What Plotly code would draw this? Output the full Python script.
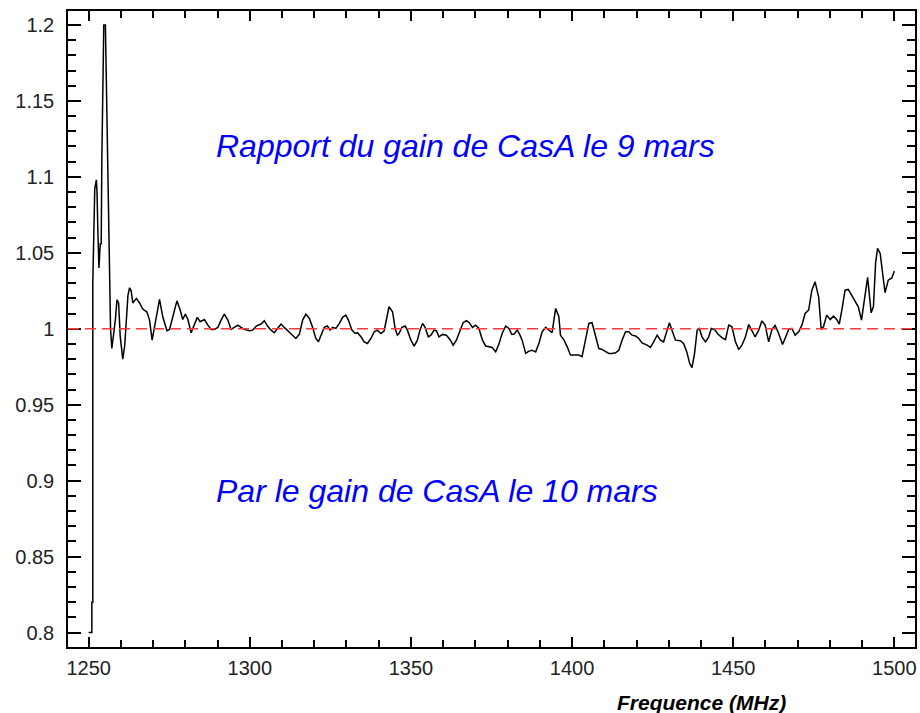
import plotly.graph_objects as go

freq_mhz = [
    1250.0, 1251.0, 1251.0, 1251.3, 1251.3, 1251.9, 1252.4, 1252.6, 1252.9, 1253.2,
    1253.6, 1253.9, 1254.1, 1254.4, 1254.7, 1255.2, 1255.5, 1256.0, 1256.5, 1256.8,
    1257.2, 1257.7, 1258.3, 1258.8, 1259.3, 1259.8, 1260.6, 1261.2, 1261.7, 1262.2,
    1262.7, 1263.2, 1263.7, 1264.8, 1265.8, 1266.8, 1268.1,
    1268.9, 1269.7, 1270.8, 1272.0, 1273.0, 1274.3, 1275.1, 1276.1, 1277.4, 1278.4,
    1279.2, 1280.0, 1280.8, 1281.8, 1282.8, 1283.7, 1284.6, 1285.9, 1287.0, 1288.0,
    1289.0, 1290.1, 1291.1, 1292.1, 1293.2, 1294.2, 1295.2, 1296.3, 1297.3, 1298.3,
    1299.9, 1300.9, 1302.0, 1303.5, 1304.5, 1305.5, 1306.6, 1307.6, 1308.6, 1309.7,
    1310.7, 1312.1, 1313.3, 1314.3, 1315.4, 1316.4, 1317.4, 1318.5, 1319.5, 1320.5,
    1321.3, 1322.4, 1323.1, 1324.1, 1324.9, 1325.7, 1326.7, 1327.8, 1328.8, 1329.8,
    1330.6, 1331.7, 1332.7, 1333.4, 1334.5, 1335.5, 1336.5, 1337.6, 1338.6, 1339.6,
    1340.7, 1341.7, 1342.4, 1343.2, 1344.3, 1345.1, 1345.8,
    1346.3, 1347.2, 1348.2, 1348.9, 1350.0, 1351.0, 1352.0, 1352.8, 1353.6, 1354.4,
    1355.4, 1356.2, 1357.2, 1357.9, 1358.7, 1359.8, 1361.0, 1362.1, 1363.1, 1364.1,
    1365.2, 1366.2, 1367.2, 1368.1, 1369.1, 1370.1, 1371.1, 1372.2, 1373.2, 1374.2,
    1375.2, 1376.3, 1377.3, 1378.3, 1379.4, 1380.4, 1381.3, 1382.0, 1383.0, 1383.7,
    1384.5, 1385.6, 1386.6, 1387.6, 1388.7, 1389.7, 1390.7, 1391.8, 1392.8, 1393.8,
    1394.9, 1395.9, 1396.4, 1397.5, 1398.5, 1399.5, 1400.6, 1402.1, 1403.1, 1404.2,
    1405.2, 1406.2, 1407.3, 1408.3, 1409.3, 1410.4, 1411.4, 1412.4, 1413.5, 1414.5,
    1415.5, 1416.6, 1417.6, 1418.6, 1419.7, 1420.7,
    1421.7, 1423.3, 1424.3, 1425.3, 1426.4, 1427.4, 1428.4, 1429.5, 1430.2, 1431.0,
    1432.1, 1433.6, 1434.6, 1435.6, 1436.5, 1437.2, 1438.0, 1438.8, 1439.5, 1440.3,
    1441.4, 1442.4, 1443.2, 1444.2, 1445.3, 1446.5, 1447.6, 1448.6, 1449.6, 1450.7,
    1451.7, 1452.7, 1453.8, 1454.8, 1455.8, 1456.8, 1457.9, 1458.9, 1459.9, 1461.0,
    1462.0, 1463.0, 1464.1, 1465.3, 1466.3, 1467.2, 1468.2, 1469.2, 1470.3, 1471.3,
    1472.3, 1473.4, 1474.4, 1475.4, 1476.5, 1477.3, 1478.0, 1479.0, 1480.1, 1481.1,
    1482.1, 1482.9, 1483.7, 1484.7, 1485.7, 1486.8, 1487.8, 1488.8, 1489.8, 1490.9,
    1491.7, 1492.8, 1493.5, 1494.2, 1494.8, 1495.6, 1496.3, 1497.1, 1498.1, 1499.2,
    1500.0,
]

gain_ratio = [
    0.800, 0.800, 0.820, 0.820, 1.031, 1.092, 1.098, 1.090, 1.062, 1.040,
    1.056, 1.056, 1.112, 1.181, 1.200, 1.200, 1.167, 1.106, 1.042, 1.000,
    0.987, 0.995, 1.006, 1.019, 1.017, 0.995, 0.980, 0.989, 1.008, 1.022,
    1.027, 1.025, 1.017, 1.020, 1.017, 1.013, 1.011,
    1.0057, 0.9925, 1.0057, 1.0193, 1.0079, 0.9987, 0.9996, 1.0079, 1.0184, 1.0123,
    1.0061, 1.0097, 1.0061, 0.9974, 1.0035, 1.0075, 1.0046, 1.0061, 1.0024, 0.9996,
    0.9996, 1.0009, 1.0057, 1.0097, 1.0057, 0.9996, 1.0009, 1.0024, 1.0009, 0.9996,
    0.9987, 0.9991, 1.0018, 1.0031, 1.0053, 1.0018, 0.9991, 0.9974, 1.0002, 1.0031,
    1.0009, 0.9980, 0.9958, 0.9936, 0.9965, 1.0057, 1.0097, 1.0068, 1.0009, 0.9936,
    0.9914, 0.9969, 1.0009, 1.0018, 0.9991, 1.0009, 1.0002, 1.0035, 1.0075, 1.0090,
    1.0057, 0.9991, 0.9969, 0.9974, 0.9947, 0.9914, 0.9903, 0.9936, 0.9980, 0.9991,
    0.9969, 0.9987, 1.0057, 1.0145, 1.0112, 1.0002, 0.9958,
    0.9969, 1.0009, 1.0018, 0.9991, 0.9925, 0.9886, 0.9925, 0.9991, 1.0035, 1.0009,
    0.9947, 0.9958, 0.9991, 0.9987, 0.9947, 0.9963, 0.9958, 0.9930, 0.9892, 0.9925,
    0.9991, 1.0040, 1.0053, 1.0040, 1.0009, 1.0024, 1.0002, 0.9925, 0.9886, 0.9881,
    0.9877, 0.9848, 0.9899, 0.9969, 1.0018, 1.0002, 0.9963, 0.9965, 0.9991, 0.9965,
    0.9925, 0.9838, 0.9853, 0.9859, 0.9848, 0.9903, 0.9980, 1.0009, 0.9991, 0.9974,
    1.0134, 1.0079, 0.9958, 0.9925, 0.9881, 0.9827, 0.9827, 0.9827, 0.9816, 0.9925,
    1.0035, 1.0040, 0.9947, 0.9870, 0.9864, 0.9848, 0.9838, 0.9838, 0.9842, 0.9859,
    0.9925, 0.9980, 0.9980, 0.9958, 0.9952, 0.9936,
    0.9907, 0.9892, 0.9877, 0.9914, 0.9958, 0.9925, 0.9914, 0.9991, 1.0039, 0.9991,
    0.9925, 0.9921, 0.9903, 0.9848, 0.9771, 0.9745, 0.9837, 0.9991, 1.0002, 0.9947,
    0.9914, 0.9947, 1.0002, 0.9995, 0.9964, 0.9942, 0.9929, 1.0024, 1.0013, 0.9914,
    0.9863, 0.9892, 0.9947, 1.0028, 0.9991, 0.9947, 0.9991, 1.0052, 1.0024, 0.9914,
    0.9995, 1.0022, 0.9969, 0.9896, 0.9947, 0.9995, 1.0002, 0.9958, 0.9980, 1.0024,
    1.0101, 1.0123, 1.0254, 1.0309, 1.0210, 0.9995, 1.0013, 1.0090, 1.0061, 1.0083,
    1.0061, 1.0030, 1.0123, 1.0254, 1.0259, 1.0221, 1.0188, 1.0145, 1.0057, 1.0210,
    1.0338, 1.0105, 1.0145, 1.0441, 1.0529, 1.0496, 1.0364, 1.0237, 1.0320, 1.0335,
    1.0381,
]

reference_level = 1.0
y_tick_vals = [0.8, 0.85, 0.9, 0.95, 1.0, 1.05, 1.1, 1.15, 1.2]
y_tick_text = ["0.8", "0.85", "0.9", "0.95", "1", "1.05", "1.1", "1.15", "1.2"]
title_top = "Rapport du gain de CasA le 9 mars"
title_bottom = "Par le gain de CasA le 10 mars"
x_label = "Frequence (MHz)"

X_RANGE = [1243.6, 1506.4]
Y_RANGE = [0.7905, 1.2092]

fig = go.Figure()
fig.add_trace(go.Scatter(
    x=freq_mhz, y=gain_ratio, mode="lines",
    line=dict(color="black", width=1.5),
    showlegend=False, hoverinfo="skip",
))
# empty trace to anchor the overlay axes used for minor ticks
fig.add_trace(go.Scatter(x=[], y=[], xaxis="x2", yaxis="y2",
                         showlegend=False, hoverinfo="skip"))

fig.add_shape(type="line", xref="paper", yref="y", x0=0, x1=1,
              y0=reference_level, y1=reference_level,
              line=dict(color="#ff3838", width=1.6, dash="11px,6px"))

FONT = "Liberation Sans, Arial, sans-serif"

fig.add_annotation(x=1289.0, y=1.1205, xref="x", yref="y", text=title_top,
                   showarrow=False, xanchor="left", yanchor="middle",
                   font=dict(family=FONT, size=32, color="#0000ff", style="italic"))
fig.add_annotation(x=1289.0, y=0.893, xref="x", yref="y", text=title_bottom,
                   showarrow=False, xanchor="left", yanchor="middle",
                   font=dict(family=FONT, size=32, color="#0000ff", style="italic"))
fig.add_annotation(x=0.748, y=-0.0865, xref="paper", yref="paper", text=x_label,
                   showarrow=False, xanchor="center", yanchor="middle",
                   font=dict(family=FONT, size=21, color="black", style="italic", weight="bold"))

axis_common = dict(
    showgrid=False, zeroline=False, showline=True, linecolor="black", linewidth=1.5,
    mirror="ticks", ticks="inside", tickcolor="black", tickwidth=1.5,
    tickfont=dict(family=FONT, size=20, color="#222222"),
)

fig.update_layout(
    width=920, height=713,
    margin=dict(l=68, r=3, t=11, b=66),
    paper_bgcolor="white", plot_bgcolor="white",
    xaxis=dict(range=X_RANGE, tickmode="linear", tick0=1250, dtick=50, ticklen=10,
               ticklabelstandoff=2, **axis_common),
    yaxis=dict(range=Y_RANGE, tickmode="array", tickvals=y_tick_vals, ticktext=y_tick_text,
               ticklen=13, ticklabelstandoff=8, **axis_common),
    xaxis2=dict(range=X_RANGE, overlaying="x", anchor="y2", side="bottom",
                tickmode="linear", tick0=1250, dtick=10, ticks="inside", ticklen=7,
                tickcolor="black", tickwidth=1.5, mirror="ticks", showline=True,
                linecolor="black", linewidth=1.5, showticklabels=False,
                showgrid=False, zeroline=False),
    yaxis2=dict(range=Y_RANGE, overlaying="y", anchor="x2", side="left",
                tickmode="linear", tick0=0.8, dtick=0.01, ticks="inside", ticklen=8,
                tickcolor="black", tickwidth=1.5, mirror="ticks", showline=True,
                linecolor="black", linewidth=1.5, showticklabels=False,
                showgrid=False, zeroline=False),
)

fig.write_html("out.html")
